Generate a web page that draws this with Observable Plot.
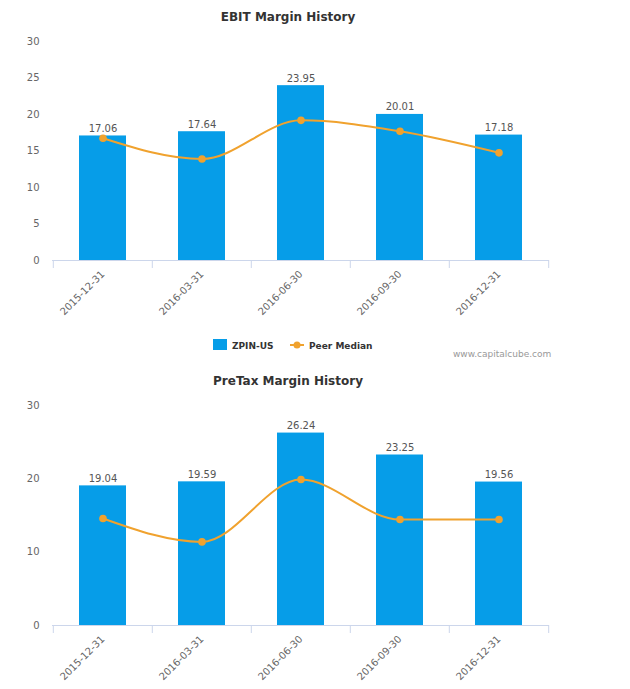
<!DOCTYPE html>
<html><head><meta charset="utf-8">
<script src="https://cdn.jsdelivr.net/npm/d3@7"></script>
<script src="https://cdn.jsdelivr.net/npm/@observablehq/plot@0.6"></script>
<style>
body{margin:0;background:#fff;font-family:"DejaVu Sans",sans-serif;}
#wrap{position:relative;width:630px;height:689px;overflow:hidden;}
.chart{position:absolute;left:0;}
.title{position:absolute;left:0;width:576px;text-align:center;font-size:12px;font-weight:bold;color:#333;line-height:16px;z-index:2;}
.leg{position:absolute;font-size:9px;font-weight:bold;color:#333;line-height:12px;z-index:2;}
#credit{position:absolute;left:453px;top:349px;font-size:9px;color:#999;z-index:2;}
</style></head><body>
<div id="wrap">
<div id="c1" class="chart" style="top:0px"></div>
<div id="c2" class="chart" style="top:365px"></div>
<div class="title" style="top:9px">EBIT Margin History</div>
<div class="title" style="top:373px">PreTax Margin History</div>
<div class="leg" style="left:213px;top:339px;width:14px;height:11px;background:#069de8"></div>
<div class="leg" style="left:232px;top:340px">ZPIN-US</div>
<svg class="leg" style="left:289px;top:339px" width="16" height="12"><line x1="1" y1="6" x2="15" y2="6" stroke="#f0a22e" stroke-width="2"/><circle cx="8" cy="6" r="3.5" fill="#f0a22e"/></svg>
<div class="leg" style="left:309px;top:340px">Peer Median</div>
<div id="credit">www.capitalcube.com</div>
</div>
<script>
const dates = ["2015-12-31","2016-03-31","2016-06-30","2016-09-30","2016-12-31"];
const ebit = [17.06, 17.64, 23.95, 20.01, 17.18];
const ebitPeer = [16.75, 13.9, 19.2, 17.7, 14.75];
const pretax = [19.04, 19.59, 26.24, 23.25, 19.56];
const pretaxPeer = [14.6, 11.4, 19.9, 14.45, 14.45];
const ebitTicks = [0, 5, 10, 15, 20, 25, 30];
const pretaxTicks = [0, 10, 20, 30];

const barColor = "#069de8";
const lineColor = "#f0a22e";

function chart(vals, peers, yTicks, height, mt, mb) {
  const W = 630, ml = 52, mr = 81;
  const data = dates.map((d, i) => ({date: d, v: vals[i], p: peers[i]}));
  const step = (W - ml - mr) / dates.length;
  return Plot.plot({
    width: W, height,
    marginLeft: ml, marginRight: mr, marginTop: mt, marginBottom: mb,
    style: {fontFamily: "DejaVu Sans", fontSize: "10px", color: "#666", background: "transparent", overflow: "visible"},
    x: {domain: dates, paddingInner: 0.53, paddingOuter: 0.265, label: null},
    y: {domain: [0, 30], label: null},
    marks: [
      Plot.axisY({ticks: yTicks, tickSize: 0, tickPadding: 13, fill: "#666", fontSize: 10, label: null}),
      Plot.axisX({tickSize: 0, tickRotate: -45, tickPadding: 12, fill: "#666", fontSize: 10, label: null}),
      Plot.barY(data, {x: "date", y: "v", fill: barColor}),
      Plot.ruleY([0], {stroke: "#ccd6eb"}),
      Plot.ruleX(dates, {x: d => d, y1: () => 0, y2: () => 0, dx: -step / 2, insetBottom: -8, stroke: "#ccd6eb"}),
      Plot.ruleX([dates[dates.length - 1]], {x: d => d, y1: () => 0, y2: () => 0, dx: step / 2, insetBottom: -8, stroke: "#ccd6eb"}),
      Plot.line(data, {x: "date", y: "p", stroke: lineColor, strokeWidth: 2, curve: "monotone-x"}),
      Plot.dot(data, {x: "date", y: "p", fill: lineColor, r: 3.8}),
      Plot.text(data, {x: "date", y: "v", text: d => d.v.toFixed(2), lineAnchor: "bottom", dy: -4, fill: "#555", fontSize: 10})
    ]
  });
}

document.getElementById("c1").append(chart(ebit, ebitPeer, ebitTicks, 330, 41, 70));
document.getElementById("c2").append(chart(pretax, pretaxPeer, pretaxTicks, 324, 40, 64));
</script>
</body></html>
